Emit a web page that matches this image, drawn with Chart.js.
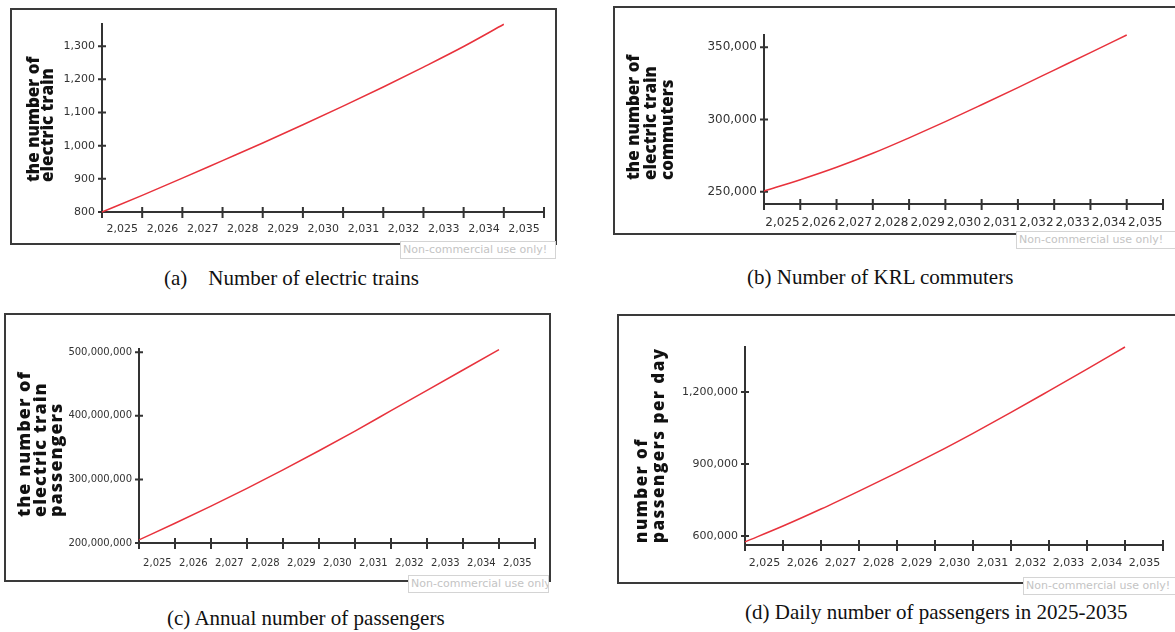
<!DOCTYPE html>
<html>
<head>
<meta charset="utf-8">
<script src="https://cdn.jsdelivr.net/npm/chart.js@4.4.1/dist/chart.umd.min.js"></script>
<style>
  body { margin: 0; background: #fff; width: 1175px; height: 632px; overflow: hidden; position: relative; }
  .frame { position: absolute; border: 2px solid #3a3a3a; box-sizing: border-box; }
  canvas { position: absolute; }
  .mark { position: absolute; background: #fff; border: 1px solid #d4d4d4; color: #c4c4c4;
          font: 11px "DejaVu Sans", sans-serif; line-height: 15px; padding-left: 2px; white-space: nowrap; overflow: hidden; }
  .cap { position: absolute; font: 21px "Liberation Serif", serif; color: #111; white-space: pre; line-height: 24px; }
</style>
</head>
<body>
<div class="frame" style="left:10px;top:8px;width:547px;height:237px"></div>
<div class="frame" style="left:613px;top:6px;width:600px;height:229px"></div>
<div class="frame" style="left:4px;top:313px;width:547px;height:269px"></div>
<div class="frame" style="left:617px;top:314px;width:600px;height:270px"></div>

<canvas id="chartA" width="543" height="233" style="left:12px;top:10px"></canvas>
<canvas id="chartB" width="560" height="224" style="left:615px;top:8px"></canvas>
<canvas id="chartC" width="543" height="263" style="left:6px;top:315px"></canvas>
<canvas id="chartD" width="556" height="266" style="left:619px;top:316px"></canvas>

<div class="mark" style="left:400px;top:241px;width:152px;height:16px">Non-commercial use only!</div>
<div class="mark" style="left:1016px;top:231px;width:165px;height:16px">Non-commercial use only!</div>
<div class="mark" style="left:408px;top:575px;width:137px;height:16px">Non-commercial use only!</div>
<div class="mark" style="left:1023px;top:577px;width:160px;height:16px">Non-commercial use only!</div>

<div class="cap" style="left:164px;top:266px">(a)    Number of electric trains</div>
<div class="cap" style="left:747px;top:265px">(b) Number of KRL commuters</div>
<div class="cap" style="left:167px;top:606px">(c) Annual number of passengers</div>
<div class="cap" style="left:745px;top:600px">(d) Daily number of passengers in 2025-2035</div>

<script>
// years shown on the x axis (the last tick carries no label)
const years = [2025, 2026, 2027, 2028, 2029, 2030, 2031, 2032, 2033, 2034, 2035];
const xTicks = [2025, 2026, 2027, 2028, 2029, 2030, 2031, 2032, 2033, 2034, 2035, 2036];

// series, one value per year
const electricTrains = [800, 850, 902, 955, 1008, 1063, 1119, 1177, 1237, 1299, 1366];
const krlCommuters = [250500, 258300, 266900, 276600, 287300, 298500, 310200, 322100, 334200, 346300, 358500];
const annualPassengers = [205000000, 231000000, 258000000, 286000000, 315000000, 345000000, 376000000, 408000000, 440000000, 472000000, 504000000];
const dailyPassengers = [575000, 641000, 712000, 787000, 864000, 944000, 1028000, 1115000, 1205000, 1296000, 1388000];

// y tick values
const ticksA = [800, 900, 1000, 1100, 1200, 1300];
const ticksB = [250000, 300000, 350000];
const ticksC = [200000000, 300000000, 400000000, 500000000];
const ticksD = [600000, 900000, 1200000];

// small "+" ticks crossing both axes
const crossTicks = {
    id: 'crossTicks',
    beforeDatasetsDraw(chart) {
        const ctx = chart.ctx;
        const xs = chart.scales.x, ys = chart.scales.y;
        ctx.save();
        ctx.strokeStyle = '#333';
        ctx.lineWidth = 2;
        ctx.beginPath();
        xs.ticks.forEach(t => {
            const px = xs.getPixelForValue(t.value);
            ctx.moveTo(px, ys.bottom - 5);
            ctx.lineTo(px, ys.bottom + 6);
        });
        ys.ticks.forEach(t => {
            const py = ys.getPixelForValue(t.value);
            ctx.moveTo(xs.left - 4, py);
            ctx.lineTo(xs.left + 4, py);
        });
        ctx.stroke();
        ctx.restore();
    }
};

// rotated, left-aligned multi-line y axis title
const sideTitle = {
    id: 'sideTitle',
    afterDraw(chart, args, opts) {
        const ctx = chart.ctx;
        ctx.save();
        ctx.fillStyle = '#111';
        ctx.font = '800 ' + opts.size + 'px "Open Sans", sans-serif';
        ctx.letterSpacing = (opts.spacing || 0) + 'px';
        ctx.textAlign = 'left';
        ctx.textBaseline = 'middle';
        opts.lines.forEach((line, i) => {
            ctx.save();
            ctx.translate(opts.x + i * opts.gap, opts.bottom);
            ctx.rotate(-Math.PI / 2);
            ctx.fillText(line, 0, 0);
            ctx.restore();
        });
        ctx.restore();
    }
};

function makeChart(id, values, yTicks, cfg) {
    const ctx = document.getElementById(id).getContext('2d');
    return new Chart(ctx, {
        type: 'line',
        data: {
            datasets: [{
                data: years.map((yr, i) => ({ x: yr, y: values[i] })),
                borderColor: '#e8323c',
                borderWidth: 1.5,
                pointRadius: 0,
                cubicInterpolationMode: 'monotone',
                fill: false,
                clip: 4
            }]
        },
        options: {
            responsive: false,
            animation: false,
            events: [],
            layout: { padding: cfg.padding },
            plugins: {
                legend: { display: false },
                tooltip: { enabled: false },
                sideTitle: cfg.title
            },
            scales: {
                x: {
                    type: 'linear',
                    min: 2025,
                    max: 2036,
                    afterBuildTicks: s => { s.ticks = xTicks.map(v => ({ value: v })); },
                    afterFit: s => { s.height = cfg.xHeight; },
                    grid: { display: false, drawTicks: false },
                    border: { display: true, color: '#333', width: 2 },
                    ticks: {
                        autoSkip: false,
                        maxRotation: 0,
                        minRotation: 0,
                        padding: cfg.xPad,
                        labelOffset: cfg.labelOffset,
                        color: '#333',
                        font: { family: 'DejaVu Sans', size: cfg.fontSize },
                        callback: v => (v <= 2035 ? v.toLocaleString('en-US') : '')
                    }
                },
                y: {
                    type: 'linear',
                    min: cfg.yMin,
                    max: cfg.yMax,
                    afterBuildTicks: s => { s.ticks = yTicks.map(v => ({ value: v })); },
                    afterFit: s => { s.width = cfg.yWidth; },
                    grid: { display: false, drawTicks: false },
                    border: { display: true, color: '#333', width: 2 },
                    ticks: {
                        padding: 7,
                        color: '#333',
                        font: { family: 'DejaVu Sans', size: cfg.fontSize },
                        callback: v => v.toLocaleString('en-US')
                    }
                }
            }
        },
        plugins: [crossTicks, sideTitle]
    });
}

makeChart('chartA', electricTrains, ticksA, {
    padding: { left: 0, top: 12, right: 6, bottom: 0 },
    yWidth: 90, xHeight: 31, xPad: 11, labelOffset: 20.3, fontSize: 11,
    yMin: 800, yMax: 1368,
    title: { lines: ['the number of', 'electric train'], x: 22, gap: 14, bottom: 172, size: 17, spacing: 0 }
});

makeChart('chartB', krlCommuters, ticksB, {
    padding: { left: 0, top: 27, right: 4, bottom: 0 },
    yWidth: 149, xHeight: 28, xPad: 12, labelOffset: 18.5, fontSize: 12,
    yMin: 241500, yMax: 358500,
    title: { lines: ['the number of', 'electric train', 'commuters'], x: 19, gap: 17, bottom: 172, size: 17, spacing: 0 }
});

makeChart('chartC', annualPassengers, ticksC, {
    padding: { left: 0, top: 34, right: 5, bottom: 0 },
    yWidth: 133, xHeight: 35, xPad: 14, labelOffset: 18.4, fontSize: 10,
    yMin: 200000000, yMax: 505000000,
    title: { lines: ['the number of', 'electric train', 'passengers'], x: 19, gap: 16, bottom: 202, size: 18, spacing: 1 }
});

makeChart('chartD', dailyPassengers, ticksD, {
    padding: { left: 0, top: 31, right: 2, bottom: 0 },
    yWidth: 126, xHeight: 37, xPad: 12, labelOffset: 19.5, fontSize: 11,
    yMin: 562000, yMax: 1388000,
    title: { lines: ['number of', 'passengers per day'], x: 23, gap: 17, bottom: 227, size: 17, spacing: 1.5 }
});
</script>
</body>
</html>
